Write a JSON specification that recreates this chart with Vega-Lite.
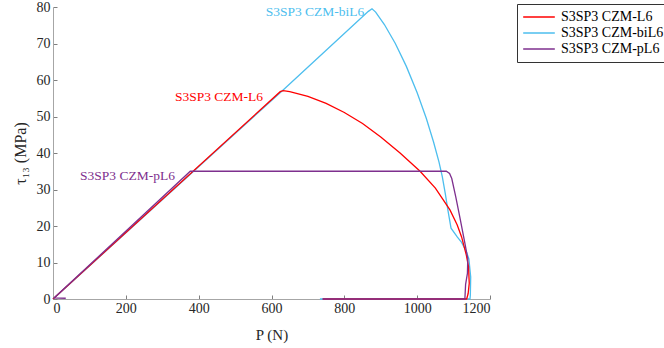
{
  "$schema": "https://vega.github.io/schema/vega-lite/v6.json",
  "width": 437,
  "height": 292,
  "autosize": {"type": "none"},
  "padding": {"left": 53, "top": 7, "right": 174, "bottom": 49},
  "background": "white",
  "config": {
    "view": {"stroke": null},
    "font": "Liberation Serif"
  },
  "datasets": {
    "curves": [
      {"s": "S3SP3 CZM-biL6", "i": 0, "P": 0, "tau": 0},
      {"s": "S3SP3 CZM-biL6", "i": 1, "P": 629, "tau": 57},
      {"s": "S3SP3 CZM-biL6", "i": 2, "P": 866, "tau": 78.8},
      {"s": "S3SP3 CZM-biL6", "i": 3, "P": 876, "tau": 79.5},
      {"s": "S3SP3 CZM-biL6", "i": 4, "P": 886, "tau": 78.6},
      {"s": "S3SP3 CZM-biL6", "i": 5, "P": 910, "tau": 75.2},
      {"s": "S3SP3 CZM-biL6", "i": 6, "P": 940, "tau": 70},
      {"s": "S3SP3 CZM-biL6", "i": 7, "P": 970, "tau": 63.8},
      {"s": "S3SP3 CZM-biL6", "i": 8, "P": 1000, "tau": 56.5},
      {"s": "S3SP3 CZM-biL6", "i": 9, "P": 1025, "tau": 49.5},
      {"s": "S3SP3 CZM-biL6", "i": 10, "P": 1045, "tau": 43},
      {"s": "S3SP3 CZM-biL6", "i": 11, "P": 1060, "tau": 37.5},
      {"s": "S3SP3 CZM-biL6", "i": 12, "P": 1069, "tau": 33.5},
      {"s": "S3SP3 CZM-biL6", "i": 13, "P": 1077, "tau": 29},
      {"s": "S3SP3 CZM-biL6", "i": 14, "P": 1085, "tau": 24},
      {"s": "S3SP3 CZM-biL6", "i": 15, "P": 1093, "tau": 19.4},
      {"s": "S3SP3 CZM-biL6", "i": 16, "P": 1110, "tau": 17},
      {"s": "S3SP3 CZM-biL6", "i": 17, "P": 1122, "tau": 15.5},
      {"s": "S3SP3 CZM-biL6", "i": 18, "P": 1135, "tau": 13},
      {"s": "S3SP3 CZM-biL6", "i": 19, "P": 1142, "tau": 11},
      {"s": "S3SP3 CZM-biL6", "i": 20, "P": 1147, "tau": 6},
      {"s": "S3SP3 CZM-biL6", "i": 21, "P": 1146, "tau": 1},
      {"s": "S3SP3 CZM-biL6", "i": 22, "P": 1145, "tau": 0},
      {"s": "S3SP3 CZM-biL6", "i": 23, "P": 733, "tau": 0},
      {"s": "S3SP3 CZM-L6", "i": 0, "P": 0, "tau": 0},
      {"s": "S3SP3 CZM-L6", "i": 1, "P": 624, "tau": 56.8},
      {"s": "S3SP3 CZM-L6", "i": 2, "P": 632, "tau": 57.1},
      {"s": "S3SP3 CZM-L6", "i": 3, "P": 650, "tau": 56.8},
      {"s": "S3SP3 CZM-L6", "i": 4, "P": 700, "tau": 55.5},
      {"s": "S3SP3 CZM-L6", "i": 5, "P": 750, "tau": 53.6},
      {"s": "S3SP3 CZM-L6", "i": 6, "P": 800, "tau": 51.1},
      {"s": "S3SP3 CZM-L6", "i": 7, "P": 850, "tau": 48.1},
      {"s": "S3SP3 CZM-L6", "i": 8, "P": 900, "tau": 44.4},
      {"s": "S3SP3 CZM-L6", "i": 9, "P": 953, "tau": 40},
      {"s": "S3SP3 CZM-L6", "i": 10, "P": 1008, "tau": 35},
      {"s": "S3SP3 CZM-L6", "i": 11, "P": 1050, "tau": 30.4},
      {"s": "S3SP3 CZM-L6", "i": 12, "P": 1090, "tau": 24.4},
      {"s": "S3SP3 CZM-L6", "i": 13, "P": 1110, "tau": 20.3},
      {"s": "S3SP3 CZM-L6", "i": 14, "P": 1122, "tau": 17},
      {"s": "S3SP3 CZM-L6", "i": 15, "P": 1135, "tau": 12},
      {"s": "S3SP3 CZM-L6", "i": 16, "P": 1141, "tau": 8.9},
      {"s": "S3SP3 CZM-L6", "i": 17, "P": 1143, "tau": 4.3},
      {"s": "S3SP3 CZM-L6", "i": 18, "P": 1140, "tau": 1.5},
      {"s": "S3SP3 CZM-L6", "i": 19, "P": 1136, "tau": 0},
      {"s": "S3SP3 CZM-L6", "i": 20, "P": 741, "tau": 0},
      {"s": "S3SP3 CZM-pL6", "i": 0, "P": 35, "tau": 0.2},
      {"s": "S3SP3 CZM-pL6", "i": 1, "P": 3, "tau": 0.3},
      {"s": "S3SP3 CZM-pL6", "i": 2, "P": 377, "tau": 35},
      {"s": "S3SP3 CZM-pL6", "i": 3, "P": 1080, "tau": 35},
      {"s": "S3SP3 CZM-pL6", "i": 4, "P": 1089, "tau": 34.4},
      {"s": "S3SP3 CZM-pL6", "i": 5, "P": 1095, "tau": 33},
      {"s": "S3SP3 CZM-pL6", "i": 6, "P": 1106, "tau": 28},
      {"s": "S3SP3 CZM-pL6", "i": 7, "P": 1117, "tau": 22.5},
      {"s": "S3SP3 CZM-pL6", "i": 8, "P": 1131, "tau": 15.3},
      {"s": "S3SP3 CZM-pL6", "i": 9, "P": 1139, "tau": 11},
      {"s": "S3SP3 CZM-pL6", "i": 10, "P": 1138, "tau": 7},
      {"s": "S3SP3 CZM-pL6", "i": 11, "P": 1133, "tau": 4},
      {"s": "S3SP3 CZM-pL6", "i": 12, "P": 1131, "tau": 0},
      {"s": "S3SP3 CZM-pL6", "i": 13, "P": 740, "tau": 0}
    ],
    "labels": [
      {"s": "S3SP3 CZM-biL6", "P": 855, "tau": 78.6},
      {"s": "S3SP3 CZM-L6", "P": 577, "tau": 55.4},
      {"s": "S3SP3 CZM-pL6", "P": 335, "tau": 33.6}
    ]
  },
  "encoding": {
    "x": {
      "field": "P", "type": "quantitative",
      "scale": {"domain": [0, 1200], "nice": false, "zero": false},
      "axis": {
        "title": "P (N)", "values": [0, 200, 400, 600, 800, 1000, 1200], "format": "d",
        "labelOverlap": false,
        "grid": false, "domainColor": "#a6a6a6", "tickColor": "#7f7f7f",
        "tickSize": -4, "labelPadding": 6, "labelFontSize": 14, "labelColor": "#262626",
        "titleFontSize": 15, "titleFontWeight": "normal", "titleColor": "#262626", "titlePadding": 12,
        "labelFont": "Liberation Serif", "titleFont": "Liberation Serif"
      }
    },
    "y": {
      "field": "tau", "type": "quantitative",
      "scale": {"domain": [0, 80], "nice": false, "zero": false},
      "axis": {
        "title": "τ₁₃ (MPa)", "values": [0, 10, 20, 30, 40, 50, 60, 70, 80], "format": "d",
        "labelOverlap": false,
        "grid": false, "domainColor": "#a6a6a6", "tickColor": "#7f7f7f",
        "tickSize": -4, "labelPadding": 7, "labelFontSize": 14, "labelColor": "#262626",
        "titleFontSize": 16, "titleFontWeight": "normal", "titleColor": "#262626", "titlePadding": 8,
        "labelFont": "Liberation Serif", "titleFont": "Liberation Serif"
      }
    },
    "color": {
      "field": "s", "type": "nominal",
      "scale": {
        "domain": ["S3SP3 CZM-L6", "S3SP3 CZM-biL6", "S3SP3 CZM-pL6"],
        "range": ["#ff0000", "#4dbeee", "#7e2f8e"]
      },
      "legend": {
        "title": null, "orient": "none", "legendX": 464, "legendY": -3,
        "symbolType": "stroke", "symbolSize": 1000, "symbolStrokeWidth": 1.5,
        "clipHeight": 16,
        "labelFontSize": 14, "labelFont": "Liberation Serif", "labelColor": "#000000",
        "strokeColor": "#333333", "fillColor": "white", "padding": 5, "rowPadding": 0,
        "labelOffset": 5, "labelLimit": 300, "cornerRadius": 0
      }
    }
  },
  "layer": [
    {
      "data": {"name": "curves"},
      "mark": {"type": "line", "strokeWidth": 1.3, "clip": false},
      "encoding": {
        "order": {"field": "i", "type": "quantitative"}
      }
    },
    {
      "data": {"name": "labels"},
      "mark": {"type": "text", "align": "right", "baseline": "middle", "fontSize": 13.5, "font": "Liberation Serif"},
      "encoding": {
        "text": {"field": "s"}
      }
    }
  ]
}
